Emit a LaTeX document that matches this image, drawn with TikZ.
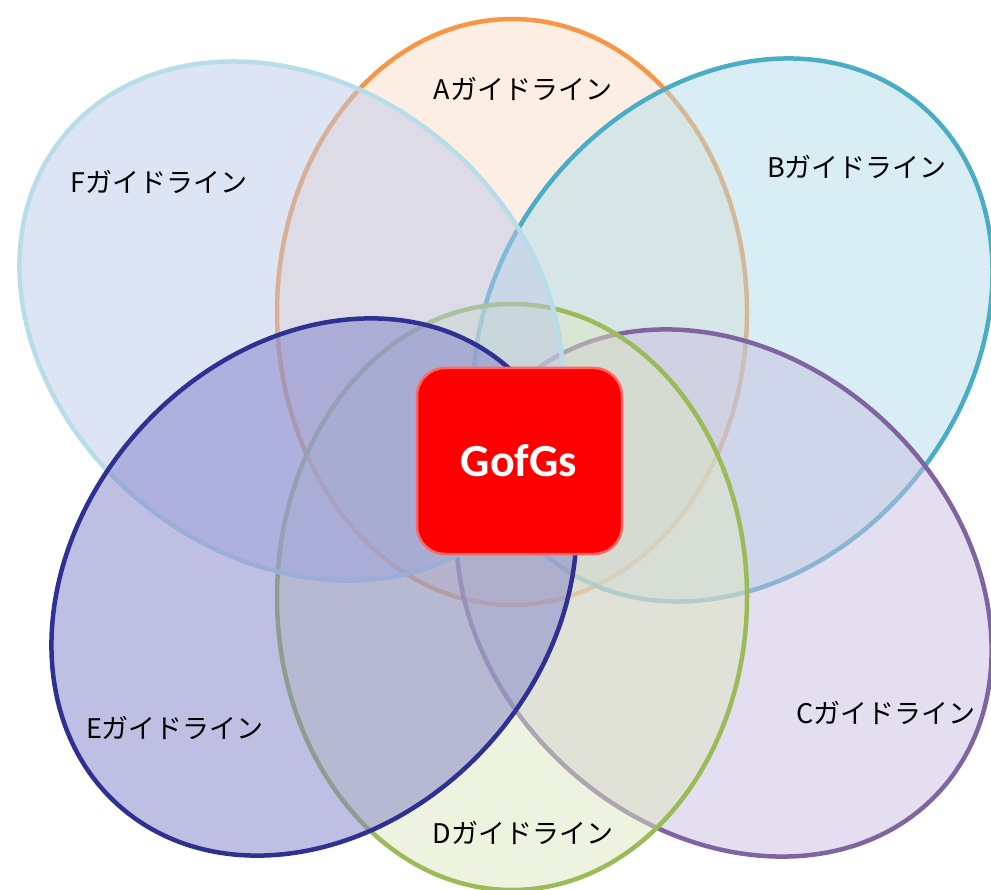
\documentclass[tikz,border=0pt]{standalone}
\usepackage{fontspec}
\newfontfamily\jpfont{Noto Sans CJK JP}
\newfontfamily\boxfont{Carlito}
\usetikzlibrary{shapes.geometric}
\definecolor{lineA}{HTML}{F79646}\definecolor{fillA}{RGB}{251,221,201}
\definecolor{lineB}{HTML}{4BACC6}\definecolor{fillB}{RGB}{177,221,233}
\definecolor{lineC}{HTML}{8064A2}\definecolor{fillC}{RGB}{201,191,225}
\definecolor{lineD}{HTML}{9BBB59}\definecolor{fillD}{RGB}{221,231,193}
\definecolor{lineE}{HTML}{2E3192}\definecolor{fillE}{RGB}{128,128,200}
\definecolor{lineF}{HTML}{B7DEE8}\definecolor{fillF}{RGB}{187,201,233}
\definecolor{boxred}{HTML}{FF0000}
\tikzset{
  venn/.style={ellipse, minimum width=470pt, minimum height=586pt, inner sep=0pt,
    line width=4.5pt, fill opacity=0.5, draw opacity=1},
  vlabel/.style={anchor=base, inner sep=0pt, font=\jpfont\fontsize{27}{27}\selectfont, text=black},
  gbox/.style={fill=boxred, draw=boxred!60!white, line width=2.5pt, rounded corners=28pt,
    minimum width=205pt, minimum height=186pt, inner sep=0pt},
}
\begin{document}
\begin{tikzpicture}[x=1pt, y=-1pt]
\useasboundingbox (0,0) rectangle (991,890);
\node[venn, draw=lineA, fill=fillA] (A) at (512,312) {};
\node[venn, draw=lineB, fill=fillB, rotate=-39] (B) at (733,330) {};
\node[venn, draw=lineC, fill=fillC, rotate=47] (C) at (724,593) {};
\node[venn, draw=lineD, fill=fillD] (D) at (512,597) {};
\node[venn, draw=lineF, fill=fillF, rotate=51] (F) at (291,321) {};
\node[venn, draw=lineE, fill=fillE, rotate=-42] (E) at (314,587) {};
\node[gbox] (G) at (519.5,461) {};
\node[anchor=base, inner sep=0pt, text=white, font=\boxfont\bfseries\fontsize{46}{46}\selectfont] (Gt) at (519,477) {GofGs};
\node[vlabel] (la) at (523,100) {Aガイドライン};
\node[vlabel] (lb) at (857,178) {Bガイドライン};
\node[vlabel] (lc) at (886,723) {Cガイドライン};
\node[vlabel] (ld) at (523,843) {Dガイドライン};
\node[vlabel] (le) at (175,738) {Eガイドライン};
\node[vlabel] (lf) at (159,193) {Fガイドライン};
\end{tikzpicture}
\end{document}
